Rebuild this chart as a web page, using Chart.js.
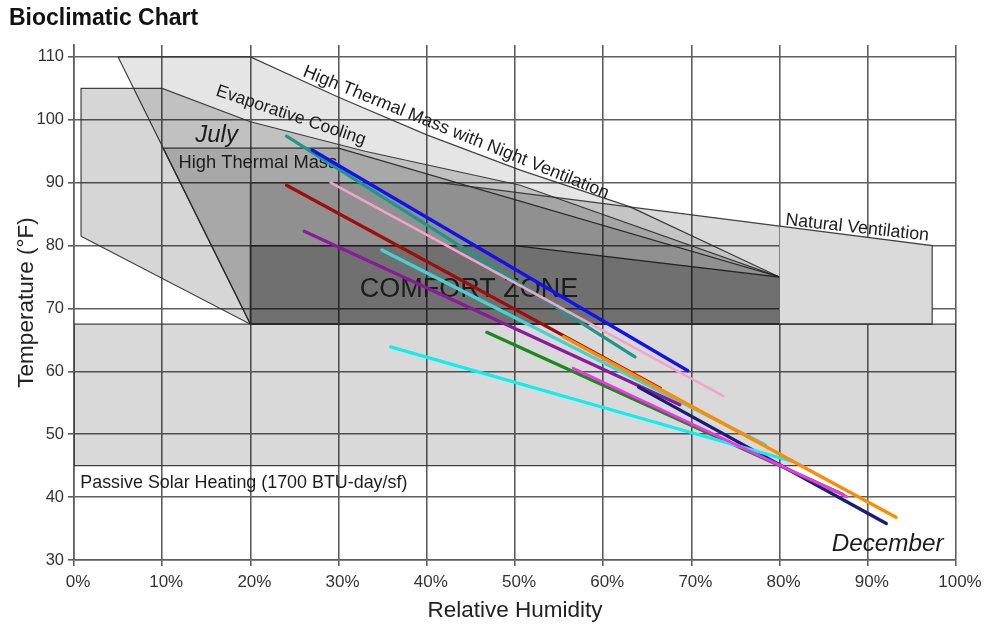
<!DOCTYPE html>
<html>
<head>
<meta charset="utf-8">
<title>Bioclimatic Chart</title>
<script src="https://cdn.jsdelivr.net/npm/chart.js@4/dist/chart.umd.min.js"></script>
<style>
  html, body { margin: 0; padding: 0; background: #ffffff; }
  #wrap { position: relative; width: 987px; height: 628px; }
</style>
</head>
<body>
<div id="wrap"><canvas id="chart"></canvas></div>
<script>
// ---- Text ----
const chartTitle = 'Bioclimatic Chart';
const xAxisTitle = 'Relative Humidity';
const yAxisTitle = 'Temperature (°F)';

// ---- Axis ranges / ticks ----
const rhRange = [0, 100];
const tempRange = [30, 111.9];
const rhStep = 10;
const tempStep = 10;

// ---- Design zones: vertices as [relative humidity %, temperature °F] ----
const passiveSolarZone = [[0, 45], [100, 45], [100, 67.5], [0, 67.5]];
// natural ventilation, split at 80 % RH where it stops overlapping the other cooling zones
const naturalVentInner = [[80, 83.1], [80, 67.5], [20, 67.5], [20, 90], [41.5, 90]];
const naturalVentOuter = [[80, 67.5], [80, 83.1], [97.3, 80], [97.3, 67.5]];
const evapCoolingZone = [[0.8, 81.5], [0.8, 105], [10, 105], [20, 99.7], [33, 95], [50.6, 89.6], [80, 75], [80, 67.5], [20, 67.5]];
const nightVentMassZone = [[5, 110], [20, 110], [30, 103.6], [40, 97.6], [50.6, 92], [63, 86.2], [80, 75], [80, 67.5], [20, 67.5]];
const thermalMassZone = [[10.1, 95.5], [30, 95.5], [80, 75], [80, 67.5], [20, 67.5]];
const comfortZone = [[20, 67.5], [20, 80], [50, 80], [80, 75], [80, 67.5]];

// ---- Monthly climate lines: (min RH, max temp) -> (max RH, min temp) ----
const months  = ['Jul', 'Sep', 'Oct', 'Jun', 'May', 'Dec', 'Mar', 'Apr', 'Feb', 'Aug', 'Nov'];
const rhMin   = [24.1, 24.1, 34.9, 29.1, 26.1, 64.0, 46.8, 35.9, 56.6, 27.0, 55.5];
const tempMax = [97.4, 89.6, 79.3, 90.0, 82.3, 57.5, 66.2, 63.9, 60.5, 95.2, 65.5];
const rhMax   = [63.6, 66.5, 78.4, 73.6, 68.7, 92.1, 87.2, 81.4, 87.6, 69.6, 93.2];
const tempMin = [62.3, 57.3, 48.3, 56.1, 54.7, 35.8, 40.4, 45.7, 40.1, 60.1, 36.8];

// ---- Styling ----
const FONT = '"Liberation Sans", Arial, Helvetica, sans-serif';
const monthColors = ['#1b9986', '#a00d0d', '#46d2d0', '#f2a3c9', '#8c1a9c', '#1c1c78',
                     '#1a8a1a', '#12eeee', '#fb2cf6', '#1212f0', '#ff8c00'];
const monthWidths = [3.3, 3.3, 3.3, 2.6, 3.3, 3.3, 3.3, 3.3, 2.8, 3.3, 3.3];

const EDGE = 'rgba(45,45,45,0.9)';
// hidden: index of an outline segment that is not stroked (the seam of a split zone)
const zoneStyles = [
  { pts: passiveSolarZone,  fill: 'rgba(0,0,0,0.150)' },
  { pts: naturalVentInner,  fill: 'rgba(0,0,0,0.145)', hidden: 0 },
  { pts: naturalVentOuter,  fill: '#dadada', hidden: 0 },
  { pts: evapCoolingZone,   fill: 'rgba(0,0,0,0.160)' },
  { pts: nightVentMassZone, fill: 'rgba(0,0,0,0.100)' },
  { pts: thermalMassZone,   fill: 'rgba(0,0,0,0.130)' },
  { pts: comfortZone,       fill: 'rgba(0,0,0,0.230)' }
];

// Zone names placed at data coordinates (baseline start), with rotation in degrees
const zoneLabels = [
  { text: 'High Thermal Mass with Night Ventilation', rh: 25.85, t: 107.0, angle: 22, font: `18px ${FONT}` },
  { text: 'Evaporative Cooling', rh: 16.0, t: 103.9, angle: 18.5, font: `17.5px ${FONT}` },
  { text: 'Natural Ventilation', rh: 80.6, t: 83.3, angle: 6.3, font: `17.8px ${FONT}` },
  { text: 'July', rh: 13.75, t: 96.5, angle: 0, font: `italic 24px ${FONT}` },
  { text: 'High Thermal Mass', rh: 11.86, t: 92.4, angle: 0, font: `18.3px ${FONT}` },
  { text: 'COMFORT ZONE', rh: 32.4, t: 71.9, angle: 0, font: `27px ${FONT}` },
  { text: 'Passive Solar Heating (1700 BTU-day/sf)', rh: 0.71, t: 41.45, angle: 0, font: `17.9px ${FONT}` },
  { text: 'December', rh: 85.9, t: 31.4, angle: 0, font: `italic 24.3px ${FONT}` }
];

// ---- Datasets ----
const toPoints = pts => {
  const out = pts.map(([x, y]) => ({ x, y }));
  out.push({ x: pts[0][0], y: pts[0][1] }); // close the outline
  return out;
};

const monthSets = months.map((m, i) => ({
  label: m,
  data: [{ x: rhMin[i], y: tempMax[i] }, { x: rhMax[i], y: tempMin[i] }],
  borderColor: monthColors[i],
  borderWidth: monthWidths[i],
  borderCapStyle: 'round',
  pointRadius: 0,
  fill: false,
  order: 50 - i
}));

const zoneSets = zoneStyles.map((z, i) => ({
  label: 'zone' + i,
  data: toPoints(z.pts),
  borderColor: EDGE,
  borderWidth: 1.2,
  backgroundColor: z.fill,
  fill: 'shape',
  pointRadius: 0,
  tension: 0,
  order: 100,
  segment: {
    borderColor: c => (z.hidden !== undefined && c.p0DataIndex === z.hidden) ? 'rgba(0,0,0,0)' : EDGE
  }
}));

const firstZoneIndex = monthSets.length;

const labelPlugin = {
  id: 'zoneLabels',
  afterDatasetDraw(chart, args) {
    if (args.index !== firstZoneIndex) return;
    const { ctx, scales: { x, y } } = chart;
    for (const l of zoneLabels) {
      ctx.save();
      ctx.translate(x.getPixelForValue(l.rh), y.getPixelForValue(l.t));
      ctx.rotate(l.angle * Math.PI / 180);
      ctx.font = l.font;
      ctx.fillStyle = '#1c1c1c';
      ctx.textAlign = 'left';
      ctx.textBaseline = 'alphabetic';
      ctx.fillText(l.text, 0, 0);
      ctx.restore();
    }
  }
};

const gridColor = '#5e5e5e';

new Chart(document.getElementById('chart'), {
  type: 'line',
  data: { datasets: [...monthSets, ...zoneSets] },
  plugins: [labelPlugin],
  options: {
    responsive: true,
    maintainAspectRatio: false,
    devicePixelRatio: 1,
    animation: false,
    events: [],
    layout: { padding: { left: 9, right: 31, top: 0, bottom: 0 } },
    plugins: {
      legend: { display: false },
      tooltip: { enabled: false },
      title: {
        display: true,
        text: chartTitle,
        align: 'start',
        color: '#111',
        font: { family: FONT, size: 23, weight: 'bold' },
        padding: { top: 5.2, bottom: 12.2 }
      }
    },
    scales: {
      x: {
        type: 'linear',
        min: rhRange[0],
        max: rhRange[1],
        ticks: {
          stepSize: rhStep,
          callback: v => v + '%',
          color: '#333',
          font: { family: FONT, size: 17 },
          padding: 6,
          labelOffset: 4,
          maxRotation: 0
        },
        grid: { color: gridColor, lineWidth: 1.6, tickLength: 6 },
        border: { color: gridColor, width: 1.6 },
        title: {
          display: true,
          text: xAxisTitle,
          color: '#222',
          font: { family: FONT, size: 22.5 },
          padding: { top: 0, bottom: 3.5 }
        },
        afterFit: s => { s.height = 68; }
      },
      y: {
        type: 'linear',
        min: tempRange[0],
        max: tempRange[1],
        ticks: {
          stepSize: tempStep,
          includeBounds: false,
          color: '#333',
          font: { family: FONT, size: 16.5 },
          padding: 4
        },
        grid: { color: gridColor, lineWidth: 1.6, tickLength: 6 },
        border: { color: gridColor, width: 1.6 },
        title: {
          display: true,
          text: yAxisTitle,
          color: '#222',
          font: { family: FONT, size: 22.5 },
          padding: { top: 4.5, bottom: 0 }
        },
        afterFit: s => { s.width = 65; }
      }
    }
  }
});
</script>
</body>
</html>
